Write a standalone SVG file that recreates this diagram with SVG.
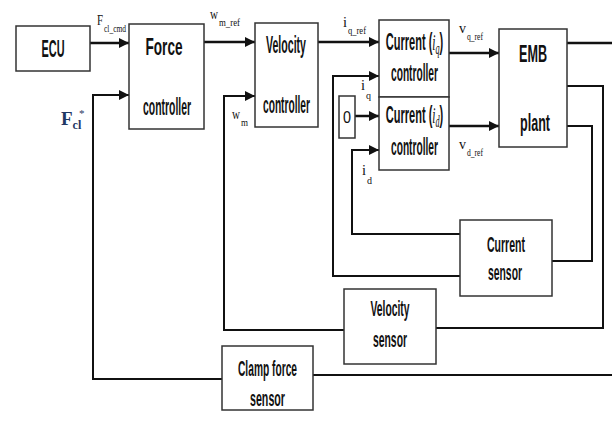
<svg xmlns="http://www.w3.org/2000/svg" width="612" height="421" viewBox="0 0 612 421">
<defs>
<marker id="arr" markerUnits="userSpaceOnUse" markerWidth="10" markerHeight="10" refX="10" refY="5" orient="auto" viewBox="0 0 10 10">
<path d="M0,0 L10,5 L0,10 z" fill="#111"/>
</marker>
</defs>
<style>
.box{fill:#fff;stroke:#333;stroke-width:1.5}
.bt{font-family:"Liberation Sans",Arial,sans-serif;font-weight:bold;font-size:23px;fill:#111;text-anchor:middle}
.st{font-family:"Liberation Sans",Arial,sans-serif;font-weight:bold;font-size:22px;fill:#111;text-anchor:middle}
.w{fill:none;stroke:#111;stroke-width:2.5}
.f{fill:none;stroke:#111;stroke-width:2}
.lb{font-family:"Liberation Serif","Times New Roman",serif;font-size:15px;fill:#111}
.sb{font-family:"Liberation Serif","Times New Roman",serif;font-size:11px;fill:#111}
</style>
<rect width="612" height="421" fill="#fff"/>
<g id="connectors">
<path class="w" d="M90,43 H129" marker-end="url(#arr)"/>
<path class="w" d="M204,42 H255" marker-end="url(#arr)"/>
<path class="w" d="M318,42 H379" marker-end="url(#arr)"/>
<path class="w" d="M449,53 H499" marker-end="url(#arr)"/>
<path class="w" d="M449,126 H499" marker-end="url(#arr)"/>
<path class="w" d="M355,116 H379" marker-end="url(#arr)"/>
<path class="w" d="M567,43 H612"/>
<path class="f" d="M567,86 H603 V328 H436"/>
<path class="f" d="M567,126 H592 V261 H552"/>
<path class="f" d="M460,234 H352 V150 H379" marker-end="url(#arr)"/>
<path class="f" d="M460,276 H333 V76 H379" marker-end="url(#arr)"/>
<path class="f" d="M344,330 H224 V96 H255" marker-end="url(#arr)"/>
<path class="f" d="M612,375 H313"/>
<path class="f" d="M222,379 H93 V95 H129" marker-end="url(#arr)"/>
</g>
<g id="ecu">
<rect class="box" x="16" y="26" width="74" height="45"/>
<text class="bt" x="53" y="57" textLength="23" lengthAdjust="spacingAndGlyphs">ECU</text>
</g>
<g id="force-controller">
<rect class="box" x="129" y="24" width="75" height="105"/>
<text class="bt" x="164" y="55" textLength="37" lengthAdjust="spacingAndGlyphs">Force</text>
<text class="bt" x="167" y="115" textLength="48" lengthAdjust="spacingAndGlyphs">controller</text>
</g>
<g id="velocity-controller">
<rect class="box" x="255" y="23" width="63" height="104"/>
<text class="bt" x="286" y="53" textLength="40" lengthAdjust="spacingAndGlyphs">Velocity</text>
<text class="bt" x="286.5" y="113" textLength="47" lengthAdjust="spacingAndGlyphs">controller</text>
</g>
<g id="current-q-controller">
<rect class="box" x="379" y="20" width="70" height="77"/>
<text class="bt" transform="translate(414.5,50) scale(0.48,1)" font-size="22">Current (<tspan font-family="Liberation Serif, serif" font-style="italic" font-weight="normal" font-size="24">i</tspan><tspan font-family="Liberation Serif, serif" font-style="italic" font-weight="normal" font-size="17" dy="4">q</tspan><tspan dy="-4">)</tspan></text>
<text class="bt" x="414.5" y="81" textLength="47" lengthAdjust="spacingAndGlyphs">controller</text>
</g>
<g id="current-d-controller">
<rect class="box" x="379" y="97" width="70" height="73"/>
<text class="bt" transform="translate(414.5,123) scale(0.48,1)" font-size="22">Current (<tspan font-family="Liberation Serif, serif" font-style="italic" font-weight="normal" font-size="24">i</tspan><tspan font-family="Liberation Serif, serif" font-style="italic" font-weight="normal" font-size="17" dy="4">d</tspan><tspan dy="-4">)</tspan></text>
<text class="bt" x="414.5" y="155" textLength="47" lengthAdjust="spacingAndGlyphs">controller</text>
</g>
<g id="zero">
<rect class="box" x="339" y="96" width="16" height="42"/>
<text x="347" y="123" font-family="Liberation Sans, Arial, sans-serif" font-size="17" text-anchor="middle" fill="#111" textLength="8" lengthAdjust="spacingAndGlyphs">0</text>
</g>
<g id="emb-plant">
<rect class="box" x="499" y="29" width="68" height="118"/>
<text class="bt" x="533" y="62" font-size="25" textLength="28" lengthAdjust="spacingAndGlyphs">EMB</text>
<text class="bt" x="535" y="131" font-size="25" textLength="30" lengthAdjust="spacingAndGlyphs">plant</text>
</g>
<g id="current-sensor">
<rect class="box" x="460" y="220" width="92" height="76"/>
<text class="st" x="506" y="252" textLength="38" lengthAdjust="spacingAndGlyphs">Current</text>
<text class="st" x="505" y="280" textLength="34" lengthAdjust="spacingAndGlyphs">sensor</text>
</g>
<g id="velocity-sensor">
<rect class="box" x="344" y="289" width="92" height="75"/>
<text class="st" x="390" y="316" textLength="39" lengthAdjust="spacingAndGlyphs">Velocity</text>
<text class="st" x="390" y="347" textLength="34" lengthAdjust="spacingAndGlyphs">sensor</text>
</g>
<g id="clamp-force-sensor">
<rect class="box" x="222" y="346" width="91" height="64"/>
<text class="st" x="267.5" y="376" textLength="59" lengthAdjust="spacingAndGlyphs">Clamp force</text>
<text class="st" x="267.5" y="406" textLength="35" lengthAdjust="spacingAndGlyphs">sensor</text>
</g>
<g id="labels">
<text class="lb" x="97" y="25" textLength="6" lengthAdjust="spacingAndGlyphs">F</text>
<text class="sb" x="104" y="32" textLength="22" lengthAdjust="spacingAndGlyphs">cl_cmd</text>
<text class="lb" x="210" y="19" textLength="8" lengthAdjust="spacingAndGlyphs">w</text>
<text class="sb" x="219" y="26" textLength="21" lengthAdjust="spacingAndGlyphs">m_ref</text>
<text class="lb" x="232" y="119" textLength="8" lengthAdjust="spacingAndGlyphs">w</text>
<text class="sb" x="241" y="126" textLength="7" lengthAdjust="spacingAndGlyphs">m</text>
<text class="lb" x="343" y="27" textLength="4" lengthAdjust="spacingAndGlyphs">i</text>
<text class="sb" x="348" y="34" textLength="18" lengthAdjust="spacingAndGlyphs">q_ref</text>
<text class="lb" x="361" y="90" textLength="4" lengthAdjust="spacingAndGlyphs">i</text>
<text class="sb" x="366" y="99" textLength="5" lengthAdjust="spacingAndGlyphs">q</text>
<text class="lb" x="362" y="175" textLength="4" lengthAdjust="spacingAndGlyphs">i</text>
<text class="sb" x="367" y="184" textLength="5" lengthAdjust="spacingAndGlyphs">d</text>
<text class="lb" x="459" y="33" textLength="7" lengthAdjust="spacingAndGlyphs">v</text>
<text class="sb" x="467" y="40" textLength="16" lengthAdjust="spacingAndGlyphs">q_ref</text>
<text class="lb" x="459" y="149" textLength="7" lengthAdjust="spacingAndGlyphs">v</text>
<text class="sb" x="467" y="156" textLength="16" lengthAdjust="spacingAndGlyphs">d_ref</text>
<text x="61" y="125" font-family="Liberation Serif, serif" font-weight="bold" font-size="19" fill="#1f3864">F<tspan font-size="12" dy="4">cl</tspan></text>
<text x="79" y="117" font-family="Liberation Serif, serif" font-size="11" fill="#1f3864">*</text>
</g>
</svg>
